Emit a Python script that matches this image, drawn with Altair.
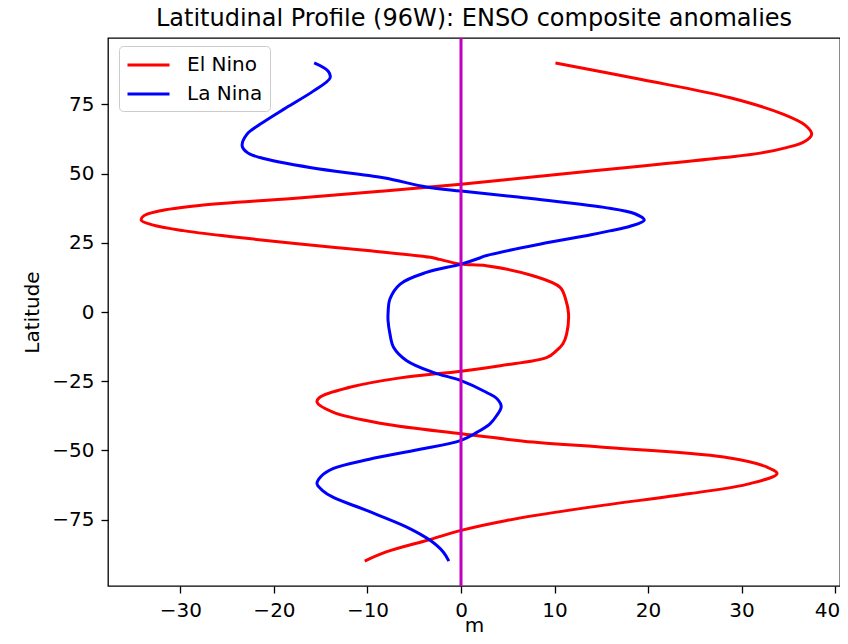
import altair as alt
import pandas as pd

# ---- data ----
series_names = ["El Nino", "La Nina"]
series_colors = ["#ff0000", "#0000ff"]

lat_el_nino = [90.0, 84.0, 77.4, 71.4, 67.5, 64.2, 61.5, 59.4, 57.4, 55.8, 53.4, 51.0, 48.6,
               46.2, 43.6, 41.0, 38.5, 36.5, 34.8, 33.2, 31.5, 29.4, 27.2, 24.8, 22.2,
               19.6, 19.0, 17.3, 16.7, 13.1, 8.9, 4.5, -0.7, -7.9, -11.5, -14.0, -16.4,
               -19.4, -21.4, -23.8, -27.2, -30.8, -32.6, -36.2, -40.4, -44.0, -47.0,
               -48.8, -52.4, -56.0, -58.4, -62.0, -65.6, -70.5, -75.3, -78.9, -82.2,
               -86.7, -90.0]
val_el_nino = [10.1, 19.3, 28.8, 34.5, 36.8, 37.5, 36.7, 34.8, 32.0, 28.2, 21.2, 14.2, 7.1,
               0.0, -8.6, -18.0, -28.0, -32.3, -33.9, -34.2, -33.0, -29.7, -24.5, -18.0, -10.0,
               -3.0, -2.3, 0.0, 2.7, 7.7, 10.6, 11.2, 11.5, 11.3, 10.9, 10.2, 9.2,
               4.2, 0.0, -6.5, -11.9, -15.1, -15.4, -13.7, -8.3, 0.0, 7.7,
               14.9, 28.1, 32.7, 33.8, 30.9, 24.5, 13.8, 4.9, 0.0, -3.3,
               -8.0, -10.3]

lat_la_nina = [90.0, 87.0, 84.6, 79.8, 73.8, 67.8, 64.2, 60.0, 57.5, 55.8, 52.1, 48.5, 45.2,
               43.7, 41.3, 37.8, 35.5, 33.2, 31.0, 29.3, 27.9, 24.5, 20.2, 19.5, 17.3,
               14.3, 10.1, 4.7, -0.5, -3.1, -7.9, -12.8, -17.6, -21.8, -24.8, -29.0,
               -31.5, -34.2, -37.5, -40.4, -43.5, -46.4, -49.7, -53.2, -56.6, -59.5,
               -62.0, -64.5, -66.9, -71.7, -77.7, -82.5, -86.7, -90.0]
val_la_nina = [-15.7, -14.2, -14.0, -15.8, -18.7, -21.5, -22.9, -23.4, -22.8, -21.5, -16.0, -8.3, -3.7,
               0.0, 6.7, 15.3, 18.6, 19.6, 18.1, 15.9, 13.9, 8.4, 2.5, 2.0, 0.0,
               -3.7, -6.5, -7.6, -7.8, -7.8, -7.6, -7.2, -5.8, -3.0, 0.0, 2.7,
               3.9, 4.3, 3.8, 3.1, 1.7, 0.0, -4.5, -9.8, -13.7, -15.0,
               -15.4, -14.8, -13.7, -10.1, -5.8, -3.3, -1.9, -1.3]

x_ticks = [-30, -20, -10, 0, 10, 20, 30, 40]
y_ticks = [-75, -50, -25, 0, 25, 50, 75]
zero_line = [0]

title_text = "Latitudinal Profile (96W): ENSO composite anomalies"
FONT = "DejaVu Sans"

df = pd.concat([
    pd.DataFrame({"lat": lat_el_nino, "val": val_el_nino, "series": series_names[0], "k": 0}),
    pd.DataFrame({"lat": lat_la_nina, "val": val_la_nina, "series": series_names[1], "k": 1}),
], ignore_index=True)

x_scale = alt.Scale(domain=[-37.75, 40.53], nice=False, zero=False)
y_scale = alt.Scale(domain=[-99, 99], nice=False, zero=False)

lines = alt.Chart(df).mark_line(strokeWidth=3, interpolate="catmull-rom").encode(
    x=alt.X("val:Q", scale=x_scale, title="m",
            axis=alt.Axis(values=x_ticks, format="d", titleY=45,
                          titleBaseline="alphabetic",
                          labelOffset={"condition": {"test": "datum.value == 40", "value": -8},
                                       "value": 0})),
    y=alt.Y("lat:Q", scale=y_scale, title="Latitude",
            axis=alt.Axis(values=y_ticks, format="d")),
    color=alt.Color("series:N",
                    scale=alt.Scale(domain=series_names, range=series_colors),
                    legend=alt.Legend(
                        title=None, orient="none", legendX=11, legendY=8,
                        symbolType="M-1,0L3,0", symbolSize=441, symbolStrokeWidth=3,
                        labelOffset=37, padding=7, rowPadding=7,
                        fillColor="white", strokeColor="#cccccc", cornerRadius=4,
                        labelFont=FONT, labelFontSize=20, labelColor="black")),
    order=alt.Order("lat:Q", sort="descending"),
    detail="k:N",
)

rule = alt.Chart(pd.DataFrame({"m": zero_line})).mark_rule(
    color="#bf00bf", strokeWidth=3).encode(x=alt.X("m:Q", scale=x_scale))

chart = alt.layer(lines, rule).properties(
    width=732, height=548,
    title=alt.TitleParams(title_text, font=FONT, fontSize=24, fontWeight="normal",
                          color="black", anchor="middle", offset=6),
    padding={"left": 100, "top": 30, "right": 0, "bottom": 46},
    autosize=alt.AutoSizeParams(type="none"),
).configure_view(
    stroke="black", strokeWidth=1.3
).configure_axis(
    grid=False, domain=False, tickColor="black", tickSize=7, tickWidth=1.3,
    labelPadding=7, labelFont=FONT, labelFontSize=20, labelColor="black",
    titleFont=FONT, titleFontSize=20, titleFontWeight="normal", titleColor="black",
).configure_axisY(titlePadding=9)

chart.save("out.html", embed_options={"renderer": "svg", "actions": False})
